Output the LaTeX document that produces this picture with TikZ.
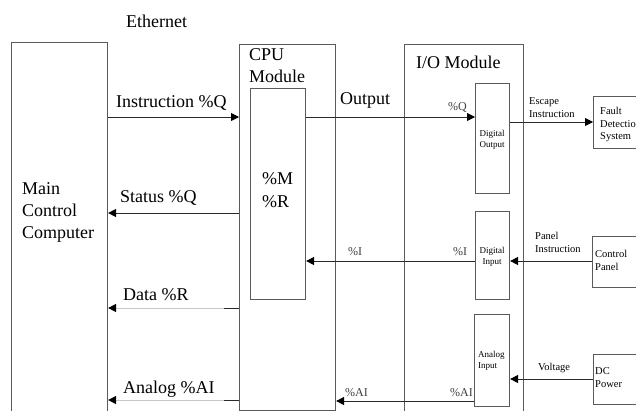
\documentclass[tikz,border=0pt]{standalone}
\usepackage{fontspec}
\setmainfont{Liberation Serif}
\usetikzlibrary{arrows.meta}
\definecolor{boxgray}{HTML}{5A5A5A}
\definecolor{linegray}{HTML}{2A2A2A}
\definecolor{faint}{HTML}{C8C8C8}
\begin{document}
\begin{tikzpicture}[x=1pt,y=-1pt,
  box/.style={draw=boxgray,line width=1.1pt,rectangle,inner sep=0pt,anchor=north west},
  arr/.style={draw=linegray,line width=0.9pt,-{Triangle[length=8pt,width=8pt,black]}},
  farr/.style={draw=faint,line width=0.9pt,-{Triangle[length=8pt,width=8pt,black]}},
  big/.style={inner sep=0pt,anchor=base west,font=\fontsize{18}{22}\selectfont},
  mid/.style={inner sep=0pt,anchor=base west,font=\fontsize{10.5}{12}\selectfont},
  pct/.style={inner sep=0pt,anchor=base west,text=black!75,font=\fontsize{12}{14}\selectfont},
  tiny/.style={inner sep=0pt,anchor=base,font=\fontsize{9}{11}\selectfont}]
\useasboundingbox[fill=white] (0,0) rectangle (636,410);
% boxes
\node[box,minimum width=96pt,minimum height=372pt] (mcc) at (11,42) {};
\node[box,minimum width=96pt,minimum height=366pt] (cpu) at (239,44) {};
\node[box,minimum width=55pt,minimum height=211pt] (cpuin) at (250,88) {};
\node[box,minimum width=119pt,minimum height=370pt] (io) at (404,44) {};
\node[box,minimum width=34pt,minimum height=110pt] (dout) at (475,83) {};
\node[box,minimum width=34pt,minimum height=88pt] (din) at (475,211) {};
\node[box,minimum width=35pt,minimum height=92pt] (ain) at (474,314) {};
\node[box,minimum width=50pt,minimum height=52pt] (fault) at (593,96) {};
\node[box,minimum width=50pt,minimum height=51pt] (cp) at (592,236) {};
\node[box,minimum width=50pt,minimum height=50pt] (dc) at (593,354) {};
% texts
\node[big] (eth) at (126,27) {Ethernet};
\node[big] (t1) at (22,194) {Main};
\node[big] (t2) at (22,216) {Control};
\node[big] (t3) at (22,238) {Computer};
\node[big] (t4) at (249,60) {CPU};
\node[big] (t5) at (249,82) {Module};
\node[big] (t6) at (262,184) {\%M};
\node[big] (t7) at (262,207) {\%R};
\node[big] (t8) at (416,68) {I/O Module};
\node[big] (t9) at (116,107) {Instruction \%Q};
\node[big] (t10) at (340,104) {Output};
\node[big] (t11) at (120,202) {Status \%Q};
\node[big] (t12) at (123,300) {Data \%R};
\node[big] (t13) at (123,393) {Analog \%AI};
\node[pct] (p1) at (448,110) {\%Q};
\node[pct] (p2) at (348,255) {\%I};
\node[pct] (p3) at (453,255) {\%I};
\node[pct] (p4) at (345,396) {\%AI};
\node[pct] (p5) at (450,396) {\%AI};
\node[tiny] (d1) at (492,136) {Digital};
\node[tiny] (d2) at (492,147) {Output};
\node[tiny] (d3) at (492,253) {Digital};
\node[tiny] (d4) at (492,264) {Input};
\node[tiny,anchor=base west] (d5) at (478,357) {Analog};
\node[tiny,anchor=base west] (d6) at (478,368) {Input};
\node[mid] (m1) at (529,104) {Escape};
\node[mid] (m2) at (529,117) {Instruction};
\node[mid] (m3) at (600,114) {Fault};
\node[mid] (m4) at (600,127) {Detection};
\node[mid] (m5) at (600,139) {System};
\node[mid] (m6) at (535,239) {Panel};
\node[mid] (m7) at (535,252) {Instruction};
\node[mid] (m8) at (595,257) {Control};
\node[mid] (m9) at (595,270) {Panel};
\node[mid] (m10) at (538,370) {Voltage};
\node[mid] (m11) at (595,374) {DC};
\node[mid] (m12) at (595,387) {Power};
% connectors
\draw[arr] (mcc.east |- 0,117) -- (cpu.west |- 0,117);
\draw[arr] (cpuin.east |- 0,117) -- (dout.west |- 0,117);
\draw[arr] (dout.east |- 0,122) -- (fault.west |- 0,122);
\draw[arr] (cpu.west |- 0,213) -- (mcc.east |- 0,213);
\draw[arr] (din.west |- 0,261) -- (cpuin.east |- 0,261);
\draw[arr] (cp.west |- 0,261) -- (din.east |- 0,261);
\draw[farr] (cpu.west |- 0,308) -- (mcc.east |- 0,308);
\draw[linegray,line width=0.9pt] (cpu.west |- 0,308) -- ++(-15,0);
\draw[arr] (dc.west |- 0,379) -- (ain.east |- 0,379);
\draw[arr] (ain.west |- 0,401) -- (cpu.east |- 0,401);
\draw[farr] (cpu.west |- 0,400) -- (mcc.east |- 0,400);
\draw[linegray,line width=0.9pt] (cpu.west |- 0,400) -- ++(-15,0);
\end{tikzpicture}
\end{document}
